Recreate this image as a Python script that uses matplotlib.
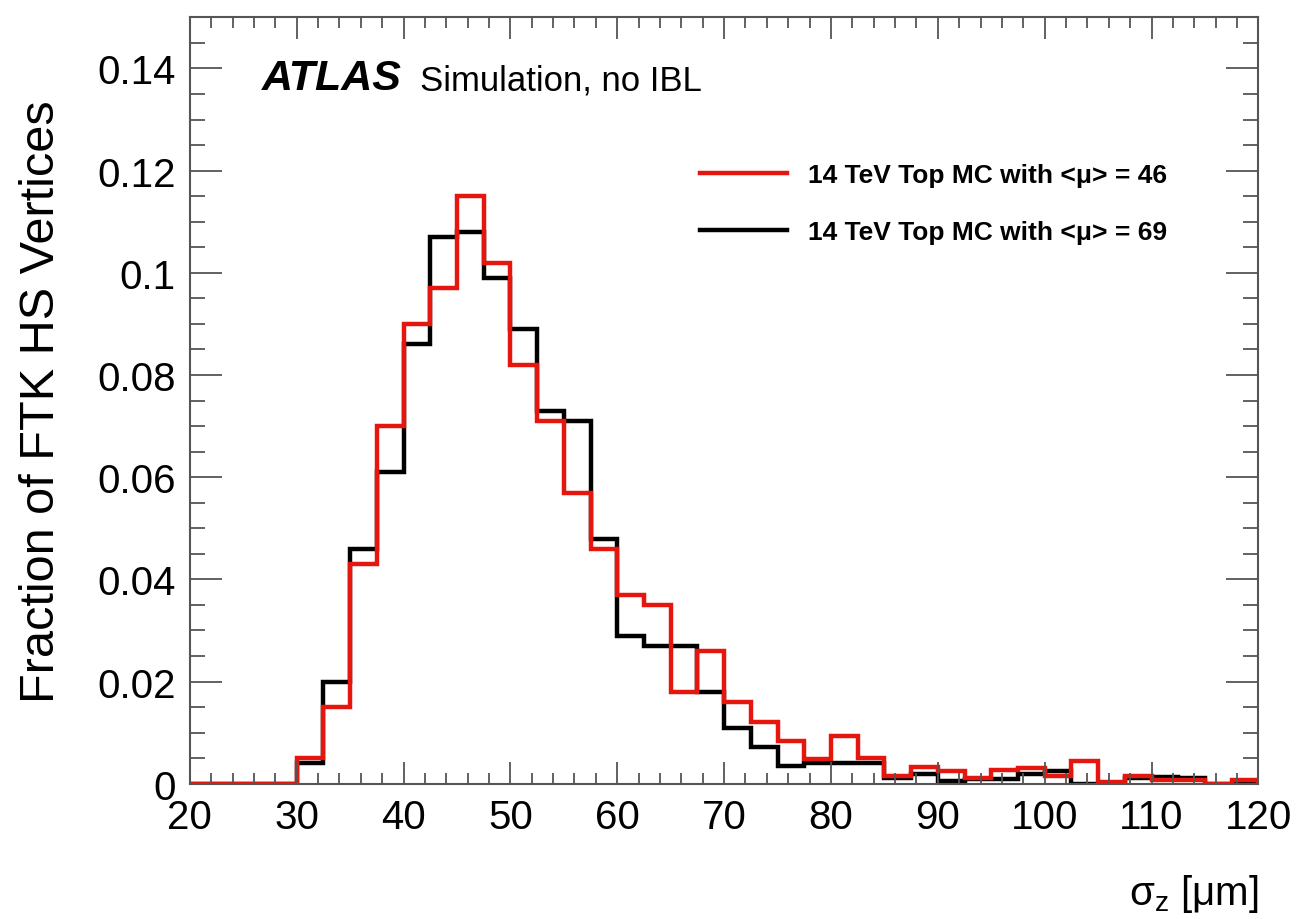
import numpy as np
import matplotlib
matplotlib.use('agg')
import matplotlib.pyplot as plt
from matplotlib.ticker import MultipleLocator

plt.rcParams['font.family'] = ['Liberation Sans', 'DejaVu Sans']

# sigma_z histogram, 2.5 um bins from 20 to 120 um
bin_edges = np.arange(20, 120.01, 2.5)

frac_mu46 = [0.0, 0.0, 0.0, 0.0, 0.005, 0.015, 0.043, 0.070, 0.090, 0.097,
             0.115, 0.102, 0.082, 0.071, 0.057, 0.046, 0.037, 0.035, 0.018, 0.026,
             0.016, 0.012, 0.0084, 0.0049, 0.0094, 0.005, 0.0016, 0.0033, 0.0025, 0.0012,
             0.0027, 0.003, 0.0015, 0.0045, 0.0004, 0.0016, 0.0008, 0.0008, 0.0, 0.0008]

frac_mu69 = [0.0, 0.0, 0.0, 0.0, 0.004, 0.020, 0.046, 0.061, 0.086, 0.107,
             0.108, 0.099, 0.089, 0.073, 0.071, 0.048, 0.029, 0.027, 0.027, 0.018,
             0.011, 0.0072, 0.0035, 0.004, 0.004, 0.004, 0.0012, 0.002, 0.0006, 0.001,
             0.0009, 0.002, 0.0025, 0.0, 0.0, 0.0012, 0.0013, 0.0012, 0.0, 0.0]

labels = ['14 TeV Top MC with <\u03bc> = 46', '14 TeV Top MC with <\u03bc> = 69']
red = '#e5160e'
frame = '#555555'

fig = plt.figure(figsize=(13, 9.2), dpi=100)
ax = fig.add_axes([0.146, 0.147, 0.822, 0.833])

ax.stairs(frac_mu69, bin_edges, color='black', linewidth=3.2, label=labels[1])
ax.stairs(frac_mu46, bin_edges, color=red, linewidth=3.2, label=labels[0])

ax.set_xlim(20, 120)
ax.set_ylim(0, 0.15)

# ROOT-like ticks: inside, on every side
ax.xaxis.set_major_locator(MultipleLocator(10))
ax.xaxis.set_minor_locator(MultipleLocator(2))
ax.yaxis.set_major_locator(MultipleLocator(0.02))
ax.yaxis.set_minor_locator(MultipleLocator(0.005))
ax.tick_params(which='both', direction='in', top=True, right=True, color=frame, width=1.3,
               labelsize=29)
ax.tick_params(axis='x', which='major', length=16, pad=10)
ax.tick_params(axis='x', which='minor', length=8)
ax.tick_params(axis='y', which='major', length=23, pad=10)
ax.tick_params(axis='y', which='minor', length=11)
ax.set_yticks([0, 0.02, 0.04, 0.06, 0.08, 0.1, 0.12, 0.14])
ax.set_yticklabels(['0', '0.02', '0.04', '0.06', '0.08', '0.1', '0.12', '0.14'])
for sp in ax.spines.values():
    sp.set_color(frame)
    sp.set_linewidth(1.5)

ax.set_ylabel('Fraction of FTK HS Vertices', fontsize=35)
ax.yaxis.set_label_coords(-0.118, 0.5)
ax.set_xlabel(r'$\mathregular{\sigma_z}$ [$\mathregular{\mu}$m]', fontsize=29, loc='right',
              labelpad=26)

ax.text(0.067, 0.906, 'ATLAS', transform=ax.transAxes, fontsize=31,
        fontweight='bold', fontstyle='italic', va='baseline')
ax.text(0.215, 0.906, 'Simulation, no IBL', transform=ax.transAxes, fontsize=25,
        va='baseline')

handles, labs = ax.get_legend_handles_labels()
ax.legend(handles[::-1], labs[::-1], loc='upper left', bbox_to_anchor=(0.455, 0.841),
          frameon=False, prop={'weight': 'bold', 'size': 19},
          handlelength=3.3, handletextpad=0.8, labelspacing=1.25)

fig.savefig('out.png', dpi=100)
